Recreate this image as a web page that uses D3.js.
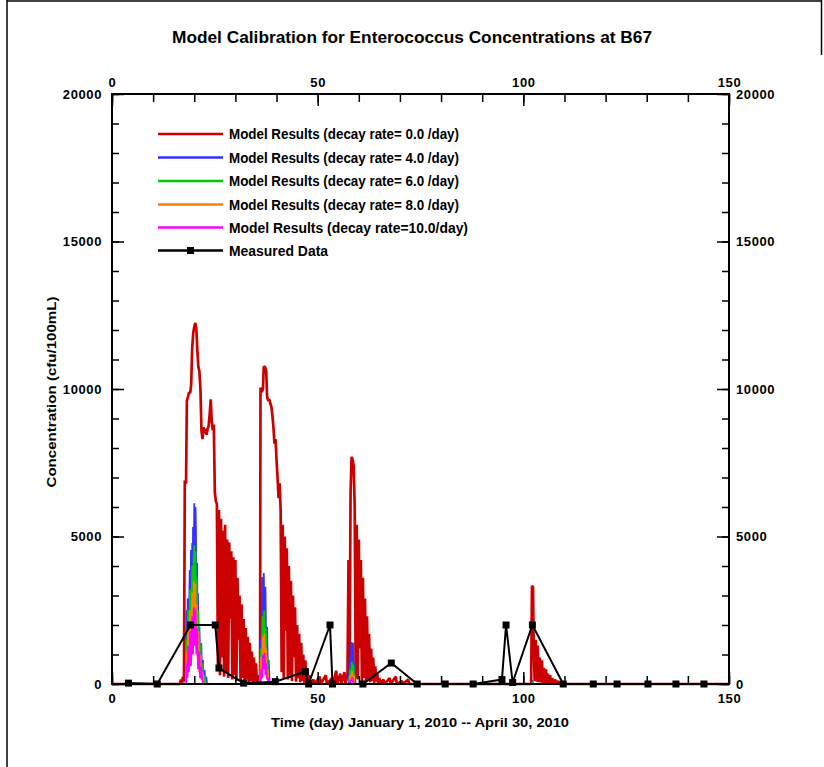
<!DOCTYPE html>
<html><head><meta charset="utf-8">
<script src="https://cdn.jsdelivr.net/npm/d3@7/dist/d3.min.js"></script>
<style>body{margin:0;background:#fff}svg{display:block}text{font-family:"Liberation Sans",Arial,sans-serif;font-weight:bold;fill:#000}</style>
</head><body><svg id="c" width="824" height="767"></svg>
<script>
// ---------- data ----------
const chartTitle = "Model Calibration for Enterococcus Concentrations at B67";
const xTitle = "Time (day) January 1, 2010 -- April 30, 2010";
const yTitle = "Concentration (cfu/100mL)";
const xMajorTicks = [0, 50, 100, 150];
const yMajorTicks = [0, 5000, 10000, 15000, 20000];
const seriesNames = ["Model Results (decay rate= 0.0 /day)","Model Results (decay rate= 4.0 /day)","Model Results (decay rate= 6.0 /day)","Model Results (decay rate= 8.0 /day)","Model Results (decay rate=10.0/day)","Measured Data"];
const seriesColors = ["#cc0000","#3333ff","#00cc00","#ff8000","#ff00ff","#000000"];

const red0 = [[0,0],[16.5,0],[16.75,150],[17,0],[17.25,250],[17.5,80],[17.7,6900],[18.0,6800],[18.2,9600],[18.5,9750],[18.75,9900],[19.0,9850],[19.25,10150],[19.5,11400],[19.75,11900],[20.0,12100],[20.25,12240],[20.5,12050],[20.75,11300],[21.0,10750],[21.25,10600],[21.5,10000],[21.75,8600],[22.0,8300],[22.25,8700],[22.5,8500],[22.75,8650],[23.0,8450],[23.25,8650],[23.5,8750],[23.75,9150],[24.0,9650],[24.25,8900],[24.5,8600],[24.75,8800],[25.0,6500],[25.25,6200],
[25.5,6100],[25.75,600],[26.0,5900],[26.25,300],[26.5,5600],[26.75,900],[27.0,5200],[27.25,250],[27.5,5400],[27.75,400],[28.0,4900],[28.25,200],[28.5,4800],[28.75,2200],[29.0,4500],[29.25,150],[29.5,4300],[29.75,300],[30.0,4200],[30.25,100],[30.5,3600],[30.75,1500],[31.0,3000],[31.25,100],[31.5,2700],[31.75,200],[32.0,2200],[32.25,80],[32.5,1900],[32.75,150],[33.0,1600],[33.25,60],[33.5,1400],[33.75,100],[34.0,1100],[34.25,50],[34.5,900],[34.75,80],[35.0,700],[35.25,30],[35.5,300],[35.75,0],
[36.0,200],[36.1,10050],[36.4,9900],[36.7,10000],[36.9,10750],[37.2,10750],[37.5,10600],[37.7,9750],[38.0,9600],[38.25,9650],[38.5,9500],[38.75,9400],[39.0,9100],[39.25,8700],[39.5,8150],[39.75,8300],[40.0,7600],[40.25,7000],[40.5,6300],[40.75,6800],
[41.0,5900],[41.25,400],[41.5,5400],[41.75,200],[42.0,5000],[42.25,1800],[42.5,4600],[42.75,150],[43.0,4000],[43.25,300],[43.5,3500],[43.75,100],[44.0,3000],[44.25,900],[44.5,2600],[44.75,80],[45.0,2000],[45.25,200],[45.5,1700],[45.75,60],[46.0,1400],[46.25,100],[46.5,1000],[46.75,40],[47.0,800],[47.25,100],[47.5,500],[47.75,30],[48.0,300],[48.25,0],
[49.0,150],[49.25,0],[50.5,250],[50.75,0],[52.0,300],[52.25,0],[53.5,200],[53.75,0],[54.5,450],[54.75,0],[55.5,350],[55.75,0],[56.5,400],[56.75,0],[57.25,300],
[57.5,4200],[57.75,300],[58.0,6500],[58.25,7700],[58.5,7600],[58.75,7400],[59.0,6000],[59.25,200],[59.5,5400],[59.75,150],[60.0,4900],[60.25,1200],[60.5,4200],[60.75,100],[61.0,3600],[61.25,200],[61.5,2900],[61.75,80],[62.0,2300],[62.25,150],[62.5,1700],[62.75,60],[63.0,1200],[63.25,100],[63.5,900],[63.75,40],[64.0,600],[64.25,80],[64.5,350],[64.75,0],[65.0,200],[65.25,0],
[66.0,150],[66.25,0],[67.5,200],[67.75,0],[69.0,250],[69.25,0],[70.5,100],[70.75,0],[72.0,150],[72.25,0],
[101.9,0],[102.1,3320],[102.35,3300],[102.5,1500],[102.75,100],[103.0,1500],[103.25,80],[103.5,1300],[103.75,60],[104.0,900],[104.25,50],[104.5,800],[104.75,40],[105.0,550],[105.25,30],[105.5,500],[105.75,20],[106.0,350],[106.25,20],[106.5,300],[106.75,0],[107.0,200],[107.25,0],[107.75,150],[108.0,0],[108.5,100],[108.75,0],[150,0]];

const blue4 = [[0,0],[17.9,0],[18.1,2500],[18.25,800],[18.4,2900],[18.6,1200],[18.9,3860],[19.05,1500],[19.2,4540],[19.35,2000],[19.5,4780],[19.6,2500],[19.7,5320],[19.85,3000],[20.0,6130],[20.15,3500],[20.3,6000],[20.4,5300],[20.55,2500],[20.7,4100],[20.8,1800],[20.9,3080],[21.05,1000],[21.25,1930],[21.45,600],[21.7,1390],[21.9,300],[22.1,810],[22.3,150],[22.5,470],[22.7,50],[22.9,250],[23.1,0],
[35.9,0],[36.1,1500],[36.3,600],[36.5,3630],[36.7,2000],[36.9,3760],[37.1,1500],[37.3,3300],[37.5,900],[37.7,1930],[37.9,400],[38.1,810],[38.3,100],[38.5,0],
[57.6,0],[57.8,900],[58.0,300],[58.2,1420],[58.4,600],[58.6,1400],[58.8,400],[59.0,700],[59.2,0],
[102.0,0],[102.2,120],[102.4,0],[150,0]];

const green6 = [[0,0],[18.0,0],[18.1,1500],[18.25,500],[18.5,2500],[18.65,900],[19.0,3200],[19.15,1200],[19.5,4000],[19.65,1800],[19.85,4300],[20.0,4700],[20.15,2500],[20.3,4500],[20.45,2000],[20.6,3600],[20.75,1200],[21.0,2500],[21.2,700],[21.5,1400],[21.7,300],[22.0,700],[22.2,100],[22.5,300],[22.8,0],
[36.0,0],[36.2,1200],[36.4,400],[36.6,2300],[36.8,1200],[37.0,2500],[37.2,800],[37.4,1900],[37.6,500],[37.8,900],[38.0,150],[38.2,0],
[57.7,0],[57.9,500],[58.1,200],[58.3,750],[58.5,300],[58.7,650],[58.9,0],
[102.05,0],[102.25,60],[102.4,0],[150,0]];

const orange8 = [[0,0],[18.0,0],[18.15,1100],[18.3,300],[18.5,1900],[18.7,600],[19.0,2500],[19.2,900],[19.5,3100],[19.7,1400],[19.9,3500],[20.05,1800],[20.25,3400],[20.4,1500],[20.6,2700],[20.8,900],[21.0,1800],[21.2,400],[21.5,1000],[21.7,150],[22.0,400],[22.3,0],
[36.05,0],[36.25,900],[36.45,300],[36.65,1600],[36.85,800],[37.05,1700],[37.25,500],[37.45,1200],[37.65,300],[37.85,500],[38.05,0],
[57.75,0],[57.95,300],[58.15,100],[58.35,450],[58.55,150],[58.75,300],[58.9,0],[150,0]];

const magenta10 = [[0,0],[18.05,0],[18.2,700],[18.35,200],[18.5,1300],[18.7,400],[19.0,1800],[19.2,600],[19.5,2300],[19.7,1000],[19.9,2600],[20.1,1300],[20.3,2500],[20.5,1000],[20.7,1900],[20.9,500],[21.2,1100],[21.4,200],[21.7,600],[22.0,100],[22.2,0],
[36.1,0],[36.3,500],[36.5,200],[36.7,1000],[36.9,500],[37.1,1050],[37.3,300],[37.5,700],[37.7,150],[37.9,200],[38.1,0],
[57.8,0],[58.0,150],[58.2,50],[58.4,230],[58.6,80],[58.8,0],[150,0]];

const measuredDays = [4, 11, 19.1, 25.1, 26.0, 32.0, 39.7, 47.0, 47.8, 53.0, 53.6, 61.0, 67.9, 74.2, 81.0, 87.8, 94.8, 95.8, 97.4, 102.2, 109.7, 117.0, 122.8, 130.3, 137.1, 143.9];
const measuredValues = [30, 0, 2000, 2000, 540, 30, 80, 420, 0, 2000, 0, 0, 710, 0, 0, 0, 150, 2000, 50, 2000, 0, 0, 0, 0, 0, 0];

// ---------- layout ----------
const svg = d3.select("#c");
const L = 112, R = 729, T = 94, B = 684;
const x = d3.scaleLinear().domain([0,150]).range([L,R]);
const y = d3.scaleLinear().domain([0,20000]).range([B,T]);

// page frame
svg.append("line").attr("x1",7).attr("y1",0).attr("x2",7).attr("y2",767).attr("stroke","#000").attr("stroke-width",1.5);
svg.append("line").attr("x1",7).attr("y1",1).attr("x2",822).attr("y2",1).attr("stroke","#000").attr("stroke-width",1.5);
svg.append("line").attr("x1",821.5).attr("y1",0).attr("x2",821.5).attr("y2",55).attr("stroke","#000").attr("stroke-width",1.5);

svg.append("text").attr("x",412).attr("y",43).attr("text-anchor","middle").attr("font-size",16)
  .attr("textLength",480).attr("lengthAdjust","spacingAndGlyphs").text(chartTitle);

// series
const line = d3.line().x(d=>x(d[0])).y(d=>y(d[1]));
const modelSeries = [red0, blue4, green6, orange8, magenta10];
const g = svg.append("g");
modelSeries.forEach((s,i)=>{
  g.append("path").datum(s).attr("d",line).attr("fill","none")
   .attr("stroke",seriesColors[i]).attr("stroke-width", i===0?2.7:1.8).attr("stroke-linejoin","bevel");
});

// axes
const fmt = d3.format("d");
function styleAxis(sel){ sel.select(".domain").remove(); sel.selectAll(".tick line").attr("stroke","#000").attr("stroke-width",1.5);
  sel.selectAll("text").attr("font-size",13).attr("font-family",'"Liberation Sans",Arial,sans-serif').attr("font-weight","bold").attr("letter-spacing","0.6px").attr("fill","#000"); }
const xMinor = d3.range(0,151,10), yMinor = d3.range(0,20001,1000);
svg.append("g").attr("transform",`translate(0,${B})`).call(d3.axisBottom(x).tickValues(xMinor).tickSize(-8).tickFormat("")).call(styleAxis);
svg.append("g").attr("transform",`translate(0,${T})`).call(d3.axisTop(x).tickValues(xMinor).tickSize(-8).tickFormat("")).call(styleAxis);
svg.append("g").attr("transform",`translate(${L},0)`).call(d3.axisLeft(y).tickValues(yMinor).tickSize(-7).tickFormat("")).call(styleAxis);
svg.append("g").attr("transform",`translate(${R},0)`).call(d3.axisRight(y).tickValues(yMinor).tickSize(-7).tickFormat("")).call(styleAxis);
svg.append("g").attr("transform",`translate(0,${B})`).call(d3.axisBottom(x).tickValues(xMajorTicks).tickSize(-12).tickPadding(10).tickFormat(fmt)).call(styleAxis);
svg.append("g").attr("transform",`translate(0,${T})`).call(d3.axisTop(x).tickValues(xMajorTicks).tickSize(-12).tickPadding(7).tickFormat(fmt)).call(styleAxis);
svg.append("g").attr("transform",`translate(${L},0)`).call(d3.axisLeft(y).tickValues(yMajorTicks).tickSize(-12).tickPadding(10).tickFormat(fmt)).call(styleAxis);
svg.append("g").attr("transform",`translate(${R},0)`).call(d3.axisRight(y).tickValues(yMajorTicks).tickSize(-12).tickPadding(7).tickFormat(fmt)).call(styleAxis);
svg.append("rect").attr("x",L).attr("y",T).attr("width",R-L).attr("height",B-T).attr("fill","none").attr("stroke","#000").attr("stroke-width",2);

// measured data
const meas = measuredDays.map((d,i)=>[d, measuredValues[i]]);
svg.append("path").datum(meas).attr("d",line).attr("fill","none").attr("stroke","#000").attr("stroke-width",2);
svg.append("g").selectAll("rect").data(meas).join("rect")
  .attr("x",d=>x(d[0])-3.5).attr("y",d=>y(d[1])-3.5).attr("width",7).attr("height",7).attr("fill","#000");

// axis titles
svg.append("text").attr("x",420).attr("y",727).attr("text-anchor","middle").attr("font-size",13)
  .attr("textLength",298).attr("lengthAdjust","spacingAndGlyphs").text(xTitle);
svg.append("text").attr("transform","translate(56,392) rotate(-90)").attr("text-anchor","middle").attr("font-size",13)
  .attr("textLength",191).attr("lengthAdjust","spacingAndGlyphs").text(yTitle);

// legend
const legY = [134, 157.5, 181, 204.5, 227.5, 250.5];
const legLen = [230, 230, 230, 230, 239, 99];
const lg = svg.append("g");
seriesNames.forEach((n,i)=>{
  lg.append("line").attr("x1",158).attr("x2",223).attr("y1",legY[i]).attr("y2",legY[i]).attr("stroke",seriesColors[i]).attr("stroke-width",2.5);
  if(i===5) lg.append("rect").attr("x",187).attr("y",legY[i]-3.5).attr("width",7).attr("height",7).attr("fill","#000");
  lg.append("text").attr("x",229).attr("y",legY[i]+5).attr("font-size",14)
    .attr("textLength",legLen[i]).attr("lengthAdjust","spacingAndGlyphs").text(n);
});
</script></body></html>
